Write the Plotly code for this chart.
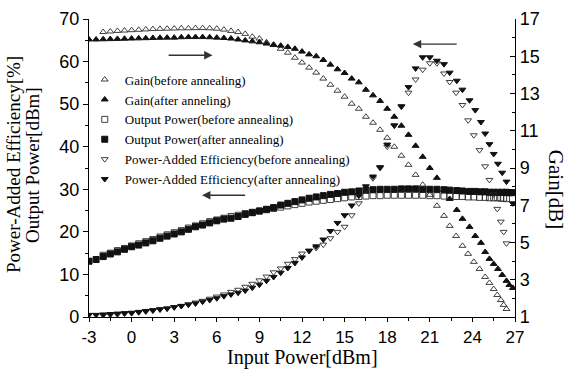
import plotly.graph_objects as go

# ---------------- data ----------------
x_after = [-3, -2.5, -2, -1.5, -1, -0.5, 0, 0.5, 1, 1.5, 2, 2.5, 3, 3.5, 4, 4.5, 5, 5.5, 6, 6.5, 7,
           7.5, 8, 8.5, 9, 9.5, 10, 10.5, 11, 11.5, 12, 12.5, 13, 13.5, 14, 14.5, 15, 15.5, 16, 16.5,
           17, 17.5, 18, 18.5, 19, 19.5, 20, 20.5, 21, 21.5, 22,
           22.4, 22.9, 23.3, 23.8, 24.2, 24.6, 24.9, 25.2, 25.5, 25.8, 26.1, 26.4, 26.6, 26.85]

x_before = [-2, -1.5, -1, -0.5, 0, 0.5, 1, 1.5, 2, 2.5, 3, 3.5, 4, 4.5, 5, 5.5, 6, 6.5, 7,
            7.5, 8, 8.5, 9, 9.5, 10, 10.5, 11, 11.5, 12, 12.5, 13, 13.5, 14, 14.5, 15, 15.5, 16, 16.5,
            17, 17.5, 18, 18.5, 19, 19.5, 20, 20.5, 21, 21.5, 22,
            22.4, 22.85, 23.3, 23.7, 24.1, 24.5, 24.9, 25.2, 25.5, 25.75, 26.0, 26.2, 26.4]

gain_before = [16.30, 16.33, 16.36, 16.38, 16.40, 16.42, 16.44, 16.46, 16.47, 16.48, 16.49, 16.50,
               16.50, 16.51, 16.51, 16.50, 16.48, 16.43, 16.36,
               16.30, 16.20, 16.05, 15.95, 15.75, 15.60, 15.40, 15.19, 14.92, 14.66, 14.39, 14.12,
               13.80, 13.47, 13.15, 12.83, 12.45, 12.18, 11.75, 11.43, 11.05, 10.62, 10.14, 9.66,
               9.17, 8.63, 8.10, 7.56, 6.97, 6.43,
               5.89, 5.35, 4.82, 4.39, 3.96, 3.58, 3.15, 2.83, 2.50, 2.18, 1.91, 1.65, 1.43]

gain_after = [15.90, 15.90, 15.91, 15.92, 15.93, 15.94, 15.95, 15.96, 15.97, 15.98, 15.99, 16.00,
              16.00, 16.02, 16.03, 16.03, 16.03, 16.02, 16.00, 15.98, 15.95,
              15.90, 15.85, 15.80, 15.75, 15.68, 15.62, 15.57, 15.50, 15.40, 15.25, 15.10, 15.00,
              14.80, 14.55, 14.30, 14.10, 13.80, 13.60, 13.20, 12.90, 12.60, 12.18, 11.75, 11.27,
              10.78, 10.19, 9.60, 9.00, 8.47, 7.83,
              7.34, 6.75, 6.27, 5.84, 5.35, 4.98, 4.49, 4.12, 3.85, 3.58, 3.26, 2.94, 2.72, 2.56]

pout_before = [14.5, 15.0, 15.6, 16.1, 16.7, 17.2, 17.7, 18.2, 18.8, 19.3, 19.8, 20.3, 20.9, 21.4,
               21.9, 22.4, 22.8, 23.2, 23.6,
               23.9, 24.3, 24.6, 24.9, 25.2, 25.5, 25.8, 26.1, 26.4, 26.7, 27.0, 27.2, 27.4, 27.6,
               27.8, 28.0, 28.2, 28.3, 28.4, 28.5, 28.5, 28.6, 28.6, 28.6, 28.6, 28.6, 28.6, 28.5,
               28.5, 28.4,
               28.4, 28.3, 28.3, 28.2, 28.2, 28.1, 28.1, 28.0, 28.0, 28.0, 27.9, 27.9, 27.8]

pout_after = [13.1, 13.5, 14.2, 14.8, 15.3, 15.9, 16.5, 16.9, 17.4, 17.9, 18.5, 19.0, 19.5, 20.0,
              20.6, 21.2, 21.6, 22.1, 22.6, 23.0, 23.2,
              23.6, 24.1, 24.5, 24.9, 25.3, 25.7, 26.3, 26.7, 27.1, 27.5, 27.9, 28.2, 28.5, 28.8,
              29.0, 29.3, 29.4, 29.6, 29.8, 29.9, 30.0, 30.0, 30.0, 30.1, 30.1, 30.1, 30.0, 30.0,
              30.0, 29.9,
              29.8, 29.7, 29.6, 29.5, 29.5, 29.4, 29.4, 29.3, 29.3, 29.3, 29.3, 29.3, 29.2, 29.2]

pae_before = [0.4, 0.5, 0.6, 0.8, 0.9, 1.1, 1.3, 1.5, 1.8, 2.0, 2.3, 2.6, 3.0, 3.4, 3.8, 4.3, 4.8,
              5.3, 5.9,
              6.4, 7.1, 7.8, 8.6, 9.5, 10.5, 11.4, 12.5, 13.6, 14.9, 15.5, 16.2, 17.0, 18.5, 20.0,
              21.2, 23.9, 26.7, 29.8, 32.6, 35.0, 40.0, 45.0, 49.4, 52.7, 55.8, 58.1, 59.6, 59.6,
              57.2,
              55.2, 52.7, 49.8, 46.2, 42.7, 39.2, 35.4, 32.2, 28.8, 25.4, 22.4, 20.0, 17.3]

pae_after = [0.5, 0.5, 0.6, 0.7, 0.8, 0.9, 1.0, 1.2, 1.4, 1.6, 1.8, 2.0, 2.3, 2.6, 2.9, 3.2, 3.6,
             4.0, 4.4, 4.9, 5.3,
             5.7, 6.2, 6.9, 7.6, 8.5, 9.4, 10.4, 11.5, 12.7, 14.0, 15.6, 16.6, 18.2, 20.2, 22.1,
             23.9, 26.2, 28.5, 30.7, 33.0, 35.2, 40.5, 45.0, 49.5, 54.0, 58.4, 61.0, 61.0, 60.2,
             59.4,
             57.4, 55.5, 53.4, 50.9, 48.6, 45.8, 43.1, 40.6, 38.3, 36.0, 33.9, 31.8, 29.4, 26.7]

x_ticks = [-3, 0, 3, 6, 9, 12, 15, 18, 21, 24, 27]
x_tick_text = ["-3", "0", "3", "6", "9", "12", "15", "18", "21", "24", "27"]
left_ticks = [0, 10, 20, 30, 40, 50, 60, 70]
right_ticks = [1, 3, 5, 7, 9, 11, 13, 15, 17]

names = ["Gain(before annealing)", "Gain(after anneling)",
         "Output Power(before annealing)", "Output Power(after annealing)",
         "Power-Added Efficiency(before annealing)", "Power-Added Efficiency(after annealing)"]

# ---------------- figure ----------------
SERIF = "Liberation Serif"
SANS = "Liberation Sans"
INK = "#111111"
OPEN_INK = "#2a2a2a"

fig = go.Figure()

def add(x, y, name, symbol, axis, open_marker):
    col = OPEN_INK if open_marker else INK
    fig.add_trace(go.Scatter(
        x=x, y=y, name=name, mode="markers", yaxis=axis,
        marker=dict(symbol=symbol, size=6, color=col,
                    line=dict(color=col, width=0.9 if open_marker else 1))))

add(x_before, gain_before, names[0], "triangle-up-open", "y2", True)
add(x_after, gain_after, names[1], "triangle-up", "y2", False)
add(x_before, pout_before, names[2], "square-open", "y", True)
add(x_after, pout_after, names[3], "square", "y", False)
add(x_before, pae_before, names[4], "triangle-down-open", "y", True)
add(x_after, pae_after, names[5], "triangle-down", "y", False)

axis_line = dict(showline=True, linecolor="black", linewidth=1.3, showgrid=False, zeroline=False)

fig.update_layout(
    width=569, height=370,
    margin=dict(l=89, r=54, t=19, b=53),
    paper_bgcolor="white", plot_bgcolor="white",
    showlegend=True,
    legend=dict(x=-0.01, y=0.847, xanchor="left", yanchor="top",
                bgcolor="rgba(0,0,0,0)", font=dict(family=SERIF, size=13, color="black"),
                itemwidth=30, tracegroupgap=0),
    xaxis=dict(range=[-3, 27], tickvals=x_ticks, ticktext=x_tick_text, ticks="outside",
               ticklen=4, tickwidth=1.2, tickcolor="black",
               minor=dict(dtick=1.5, tick0=-3, ticks="outside", ticklen=3, tickcolor="black"),
               tickfont=dict(family=SANS, size=17, color="black"),
               automargin=False, **axis_line),
    xaxis2=dict(range=[-3, 27], overlaying="x", side="top", anchor="y", matches="x",
                tickvals=x_ticks, ticks="inside", ticklen=5, tickwidth=1.2, tickcolor="black",
                minor=dict(dtick=1.5, tick0=-3, ticks="inside", ticklen=3, tickcolor="black"),
                showticklabels=False, **axis_line),
    yaxis=dict(range=[0, 70], tickvals=left_ticks, ticks="outside", ticklen=5, tickwidth=1.2,
               tickcolor="black",
               minor=dict(dtick=5, tick0=0, ticks="outside", ticklen=3, tickcolor="black"),
               tickfont=dict(family=SANS, size=18, color="black"),
               automargin=False, **axis_line),
    yaxis2=dict(range=[1, 17], tickvals=right_ticks, overlaying="y", side="right", anchor="x",
                ticks="inside", ticklen=5, tickwidth=1.2, tickcolor="black",
                minor=dict(dtick=1, tick0=1, ticks="inside", ticklen=3, tickcolor="black"),
                tickfont=dict(family=SANS, size=18, color="black"),
                automargin=False, **axis_line),
)

title_font = dict(family=SERIF, size=19, color="black")
# x axis title
fig.add_annotation(text="Input Power[dBm]", xref="paper", yref="paper", x=0.5, y=0,
                   xanchor="center", yanchor="bottom", yshift=-54, showarrow=False,
                   font=dict(family=SERIF, size=20, color="black"))
# left axis title (two stacked, rotated lines)
fig.add_annotation(text="Power-Added Efficiency[%]", xref="paper", yref="paper", x=0, y=0.51,
                   xanchor="center", yanchor="middle", xshift=-76, textangle=-90,
                   showarrow=False, font=title_font)
fig.add_annotation(text="Output Power[dBm]", xref="paper", yref="paper", x=0, y=0.51,
                   xanchor="center", yanchor="middle", xshift=-57, textangle=-90,
                   showarrow=False, font=title_font)
# right axis title
fig.add_annotation(text="Gain[dB]", xref="paper", yref="paper", x=1, y=0.43,
                   xanchor="center", yanchor="middle", xshift=41, textangle=90, showarrow=False,
                   font=dict(family=SERIF, size=21, color="black"))

arrow_style = dict(showarrow=True, arrowhead=2, arrowsize=1.2, arrowwidth=1.4, arrowcolor="#333",
                   xref="x", yref="y", axref="x", ayref="y", text="")
fig.add_annotation(x=5.7, y=61.5, ax=2.5, ay=61.5, **arrow_style)
fig.add_annotation(x=19.8, y=64.1, ax=23.0, ay=64.1, **arrow_style)
fig.add_annotation(x=4.96, y=28.6, ax=8.1, ay=28.6, **arrow_style)

fig.write_html("out.html")
